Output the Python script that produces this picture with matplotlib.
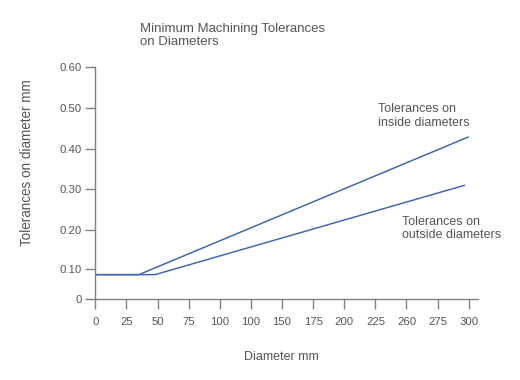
import numpy as np
import matplotlib
matplotlib.use("Agg")
import matplotlib.pyplot as plt

# ---- data ----
inside_x = [0, 35, 300]
inside_y = [0.08, 0.08, 0.43]
outside_x = [0, 48, 297]
outside_y = [0.08, 0.08, 0.31]
x_tick_values = [0, 25, 50, 75, 100, 125, 150, 175, 200, 225, 250, 275, 300]
x_tick_labels = ["0", "25", "50", "75", "100", "100", "150", "175", "200", "225", "260", "275", "300"]
y_tick_values = [0, 0.1, 0.2, 0.3, 0.4, 0.5, 0.6]
y_tick_labels = ["0", "0.10", "0.20", "0.30", "0.40", "0.50", "0.60"]

# ---- styling / layout ----
plt.rcParams['font.family'] = ['Liberation Sans', 'DejaVu Sans']
text_color = "#555555"
axis_color = "#808080"
line_color = "#3a64b4"

# uneven spacing of the printed y scale (relative positions of the tick marks)
y_tick_pos = [0.0, 30.4, 68.7, 109.7, 149.7, 190.7, 231.7]

def fwd(v):
    return np.interp(v, y_tick_values, y_tick_pos)

def inv(p):
    return np.interp(p, y_tick_pos, y_tick_values)

fig = plt.figure(figsize=(5.2, 3.8), dpi=100)
ax = fig.add_axes([95.3 / 520, 1 - 299 / 380, (477.7 - 95.3) / 520, (299 - 67) / 380])
ax.set_yscale('function', functions=(fwd, inv))

ax.plot(inside_x, inside_y, color=line_color, lw=1.05, solid_capstyle='butt')
ax.plot(outside_x, outside_y, color=line_color, lw=1.05, solid_capstyle='butt')

ax.set_xlim(0, 307.2)
ax.set_ylim(0, 0.6)
ax.set_xticks(x_tick_values)
ax.set_xticklabels(x_tick_labels)
ax.set_yticks(y_tick_values)
ax.set_yticklabels(y_tick_labels)
ax.yaxis.set_minor_locator(matplotlib.ticker.NullLocator())
ax.xaxis.set_minor_locator(matplotlib.ticker.NullLocator())

for s in ['top', 'right']:
    ax.spines[s].set_visible(False)
for s in ['left', 'bottom']:
    ax.spines[s].set_color(axis_color)
    ax.spines[s].set_linewidth(1.0)
ax.spines['left'].set_bounds(-0.03, 0.6)

ax.tick_params(axis='both', colors=axis_color, labelcolor=text_color,
               labelsize=8.2, length=7, width=1.0, direction='out')
ax.tick_params(axis='x', pad=6)
ax.tick_params(axis='y', pad=2.5)

fig.text(139.5 / 520, 1 - 23 / 380, "Minimum Machining Tolerances\non Diameters",
         ha='left', va='top', fontsize=9.5, color=text_color, linespacing=1.12)
fig.text(378 / 520, 1 - 103.5 / 380, "Tolerances on\ninside diameters",
         ha='left', va='top', fontsize=9, color=text_color, linespacing=1.12)
fig.text(401.5 / 520, 1 - 216 / 380, "Tolerances on\noutside diameters",
         ha='left', va='top', fontsize=9, color=text_color, linespacing=1.12)
fig.text(281.7 / 520, 1 - 357 / 380, "Diameter mm", ha='center', va='center',
         fontsize=9, color=text_color)
fig.text(27 / 520, 1 - 162.5 / 380, "Tolerances on diameter mm", ha='center', va='center',
         rotation=90, fontsize=9.75, color=text_color)

fig.savefig("out.png", dpi=100)
